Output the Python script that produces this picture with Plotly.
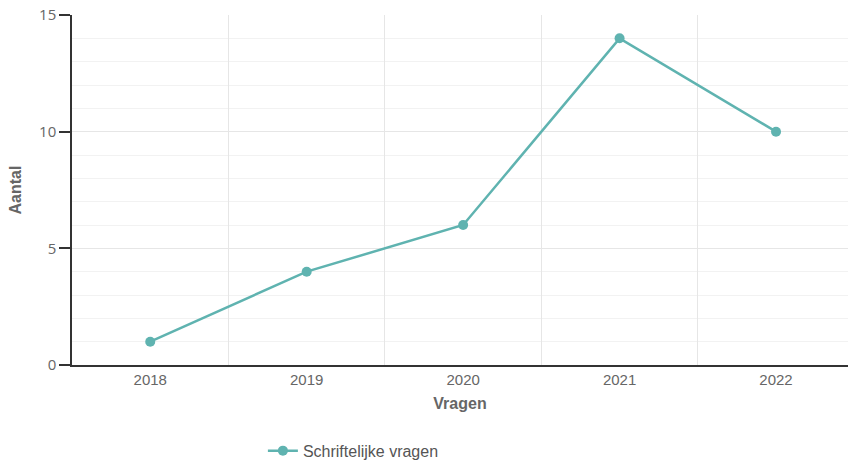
import plotly.graph_objects as go

years = ["2018", "2019", "2020", "2021", "2022"]
vragen = [1, 4, 6, 14, 10]
series_name = "Schriftelijke vragen"
y_ticks = [0, 5, 10, 15]

color = "#5fb3b0"

fig = go.Figure()
fig.add_trace(go.Scatter(
    x=years, y=vragen, mode="lines+markers", name=series_name,
    line=dict(color=color, width=2.5),
    marker=dict(color=color, size=10),
))

fig.update_layout(
    width=848, height=468,
    margin=dict(l=72, r=0, t=15, b=99),
    plot_bgcolor="white", paper_bgcolor="white",
    font=dict(family="Liberation Sans, Arial, sans-serif", size=13, color="#666666"),
    showlegend=True,
    legend=dict(orientation="h", x=0.246, xanchor="left", y=-0.245, yanchor="middle",
                font=dict(size=16, color="#555555")),
    xaxis=dict(
        type="category", range=[-0.5, 4.46], automargin=False,
        showline=True, linecolor="#333333", linewidth=1.5,
        showgrid=True, gridcolor="#e6e6e6", gridwidth=1, tickson="boundaries",
        ticks="outside", ticklen=14, tickcolor="rgba(0,0,0,0)",
        tickfont=dict(size=15, color="#666666"),
        title=dict(text="<b>Vragen</b>", font=dict(size=16, color="#666666"), standoff=11),
        zeroline=False,
    ),
    yaxis=dict(
        range=[0, 15], tickvals=y_ticks, automargin=False, ticklabeloverflow="allow",
        showline=True, linecolor="#333333", linewidth=1.5,
        ticks="outside", ticklen=11, tickcolor="#333333", tickwidth=1.5,
        showgrid=True, gridcolor="#e6e6e6", gridwidth=1,
        minor=dict(dtick=1, showgrid=True, gridcolor="#f2f2f2", gridwidth=1, ticks=""),
        tickfont=dict(family="Open Sans, sans-serif", size=15, color="#666666"),
        title=dict(text="<b>Aantal</b>", font=dict(size=16, color="#666666"), standoff=13),
        zeroline=False,
    ),
)

fig.write_html(
    "out.html",
    config={"displayModeBar": False},
    post_script="document.body.style.margin='0';document.body.style.overflow='hidden';",
)
